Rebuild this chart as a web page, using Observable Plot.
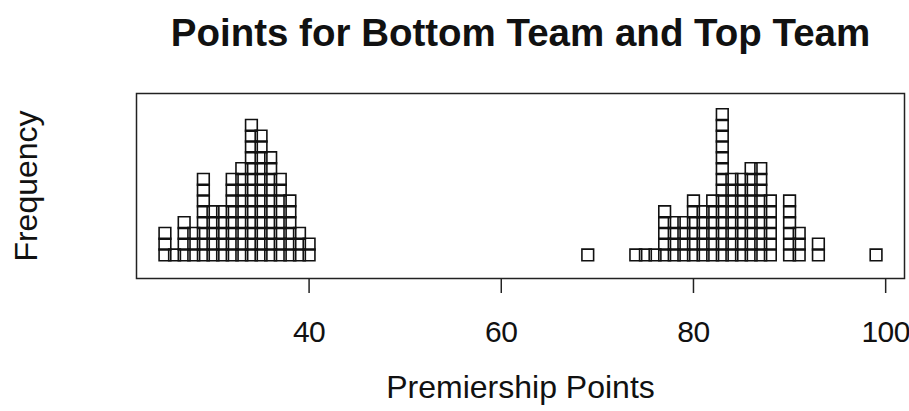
<!DOCTYPE html>
<html>
<head>
<meta charset="utf-8">
<script src="https://cdn.jsdelivr.net/npm/d3@7"></script>
<script src="https://cdn.jsdelivr.net/npm/@observablehq/plot@0.6"></script>
<style>
  html, body { margin: 0; padding: 0; background: #fff; }
  #chart svg { display: block; }
</style>
</head>
<body>
<div id="chart"></div>
<script>
// Bottom team: premiership points and how many seasons at each value
const bottomPoints = [25, 26, 27, 28, 29, 30, 31, 32, 33, 34, 35, 36, 37, 38, 39, 40];
const bottomCounts = [3, 1, 4, 3, 8, 5, 5, 8, 9, 13, 12, 10, 8, 6, 3, 2];
// Top team
const topPoints = [69, 74, 75, 76, 77, 78, 79, 80, 81, 82, 83, 84, 85, 86, 87, 88, 90, 91, 93, 99];
const topCounts = [1, 1, 1, 1, 5, 4, 4, 6, 5, 6, 14, 8, 8, 9, 9, 6, 6, 3, 2, 1];
// Axis ticks and texts
const xTicks = [40, 60, 80, 100];
const titleText = "Points for Bottom Team and Top Team";
const xLabel = "Premiership Points";
const yLabel = "Frequency";

// Stack the squares (R stripchart method = "stack")
const squares = [];
function addStack(points, counts, team) {
  points.forEach((p, i) => {
    for (let k = 0; k < counts[i]; k++) squares.push({points: p, level: k, team});
  });
}
addStack(bottomPoints, bottomCounts, "Bottom");
addStack(topPoints, topCounts, "Top");

// R-style 4% axis extension
const [lo, hi] = d3.extent(squares, d => d.points);
const pad = (hi - lo) * 0.04;

const font = "'Liberation Sans', Arial, Helvetica, sans-serif";

const chart = Plot.plot({
  width: 909,
  height: 411,
  marginLeft: 136,
  marginRight: 5,
  marginTop: 93,
  marginBottom: 133,
  style: {fontFamily: font, color: "#111", background: "#fff"},
  x: {domain: [lo - pad, hi + pad]},
  y: {domain: [-2.18, 14.95], axis: null},
  marks: [
    Plot.frame({stroke: "#222", strokeWidth: 1.5}),
    Plot.dot(squares, {
      x: "points", y: "level", symbol: "square", r: 6.6,
      stroke: "#111", strokeWidth: 1.6, fill: "none"
    }),
    Plot.axisX({
      ticks: xTicks, tickSize: 15, tickPadding: 27, fontSize: 30,
      label: null, stroke: "#222", strokeWidth: 1.5, fill: "#111"
    }),
    Plot.text([titleText], {
      frameAnchor: "top", dy: -48, lineAnchor: "bottom",
      fontSize: 38.5, fontWeight: "bold", fill: "#111"
    }),
    Plot.text([xLabel], {
      frameAnchor: "bottom", dy: 119, lineAnchor: "bottom",
      fontSize: 32, fill: "#111"
    }),
    Plot.text([yLabel], {
      frameAnchor: "left", dx: -100, rotate: -90, lineAnchor: "bottom",
      textAnchor: "middle", fontSize: 32, fill: "#111"
    })
  ]
});
chart.querySelectorAll("g[aria-label='x-axis tick label'] text").forEach(t => t.setAttribute("letter-spacing", "-0.5"));
document.getElementById("chart").append(chart);
</script>
</body>
</html>
